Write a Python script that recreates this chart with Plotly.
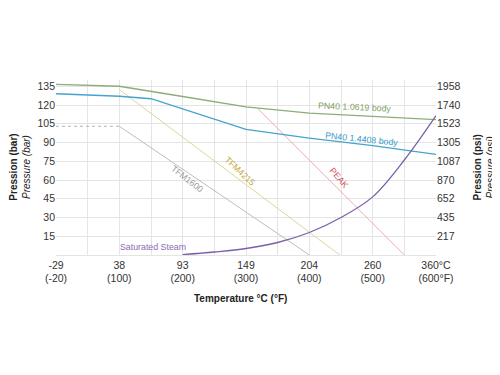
import plotly.graph_objects as go

# ---- data (x in evenly spaced temperature-slot units: 0=-29°C ... 6=360°C) ----
x_tick_pos = [0, 1, 2, 3, 4, 5, 6]
x_tick_labels = ["-29<br>(-20)", "38<br>(100)", "93<br>(200)", "149<br>(300)",
                 "204<br>(400)", "260<br>(500)", "360°C<br>(600°F)"]
y_tick_bar = [15, 30, 45, 60, 75, 90, 105, 120, 135]
y_tick_psi = ["217", "435", "652", "870", "1087", "1305", "1523", "1740", "1958"]

pn40_1_0619_x = [0, 1, 2, 3, 4, 5, 6]
pn40_1_0619_y = [136.5, 135, 126.8, 118.5, 113.5, 111, 108.3]

pn40_1_4408_x = [0, 1, 1.5, 3, 4, 5, 6]
pn40_1_4408_y = [129, 127, 125, 100.5, 93.5, 87.5, 80.5]

tfm1600_dot_x = [0, 1]
tfm1600_dot_y = [103, 103]
tfm1600_x = [1, 4]
tfm1600_y = [103, 0]

tfm4215_x = [1, 4.48]
tfm4215_y = [132.3, 0]

peak_x = [3.19, 5.5]
peak_y = [117, 0]

steam_x = [2, 2.5, 3, 3.5, 4, 4.5, 5, 5.5, 6]
steam_y = [0.3, 2.4, 5.2, 10, 18, 30, 46.5, 76, 111.5]

FONT = "Liberation Sans, Arial, sans-serif"
GRID = "#e4e4e4"

fig = go.Figure()

def line(x, y, color, width, dash="solid", shape="linear"):
    fig.add_trace(go.Scatter(x=x, y=y, mode="lines",
                             line=dict(color=color, width=width, dash=dash, shape=shape),
                             hoverinfo="skip", showlegend=False))

line(tfm1600_dot_x, tfm1600_dot_y, "#b4b4b4", 1, dash="dot")
line(tfm1600_x, tfm1600_y, "#b4b4b4", 0.9)
line(tfm4215_x, tfm4215_y, "#d8d092", 0.9)
line(peak_x, peak_y, "#e2a6ae", 0.9)
line(pn40_1_0619_x, pn40_1_0619_y, "#8cad78", 1.3)
line(pn40_1_4408_x, pn40_1_4408_y, "#45a3cf", 1.3)
line(steam_x, steam_y, "#7c5fa9", 1.3, shape="spline")

# secondary axis trace (invisible) to show psi ticks
fig.add_trace(go.Scatter(x=[0], y=[0], yaxis="y2", mode="lines",
                         line=dict(width=0), showlegend=False, hoverinfo="skip"))

ann = [
    dict(text="PN40 1.0619 body", x=4.71, y=118.3, color="#7e9f64", angle=2.5),
    dict(text="PN40 1.4408 body", x=4.83, y=92.7, color="#3a9bc8", angle=6),
    dict(text="PEAK", x=4.47, y=61.5, color="#d2535b", angle=50),
    dict(text="TFM4215", x=2.9, y=67, color="#c4a93a", angle=43),
    dict(text="TFM1600", x=2.07, y=60.5, color="#9a9a9a", angle=38),
    dict(text="Saturated Steam", x=1.53, y=6.7, color="#8a6cb4", angle=0),
]
annotations = []
for a in ann:
    annotations.append(dict(text=a["text"], x=a["x"], y=a["y"], xref="x", yref="y",
                            showarrow=False, textangle=a["angle"],
                            font=dict(family=FONT, size=8.8, color=a["color"])))

annotations += [
    dict(text="<b>Pression (bar)</b><br><i>Pressure (bar)</i>", xref="paper", yref="paper",
         x=-0.097, y=0.5, showarrow=False, textangle=-90, xanchor="center", yanchor="middle",
         font=dict(family=FONT, size=10, color="#222")),
    dict(text="<b>Pression (psi)</b><br><i>Pressure (psi)</i>", xref="paper", yref="paper",
         x=1.126, y=0.5, showarrow=False, textangle=-90, xanchor="center", yanchor="middle",
         font=dict(family=FONT, size=10, color="#222")),
    dict(text="<b>Temperature °C (°F)</b>", xref="paper", yref="paper",
         x=(240 - 56) / 380, y=-(298 - 255) / 175, showarrow=False,
         xanchor="center", yanchor="middle",
         font=dict(family=FONT, size=10, color="#222")),
]

fig.update_layout(
    width=500, height=375,
    margin=dict(l=48, r=72, t=72, b=128),
    paper_bgcolor="white", plot_bgcolor="white",
    font=dict(family=FONT, size=10.5, color="#333"),
    showlegend=False,
    annotations=annotations,
    xaxis=dict(range=[0, 6], tickvals=x_tick_pos, ticktext=x_tick_labels,
               showgrid=True, gridcolor=GRID, gridwidth=1, zeroline=False,
               showline=True, linecolor=GRID, linewidth=1,
               minor=dict(tickvals=[0.5, 1.5, 2.5, 3.5, 4.5, 5.5], showgrid=True,
                          gridcolor=GRID, gridwidth=1),
               tickfont=dict(family=FONT, size=10.5, color="#333"), fixedrange=True),
    yaxis=dict(range=[0, 140], tickvals=y_tick_bar, showgrid=True, gridcolor=GRID,
               zeroline=False, showline=False,
               tickfont=dict(family=FONT, size=10.5, color="#333")),
    yaxis2=dict(range=[0, 140], tickvals=y_tick_bar, ticktext=y_tick_psi,
                overlaying="y", side="right", showgrid=False, zeroline=False,
                tickfont=dict(family=FONT, size=10.5, color="#333")),
)

fig.write_html("out.html")
